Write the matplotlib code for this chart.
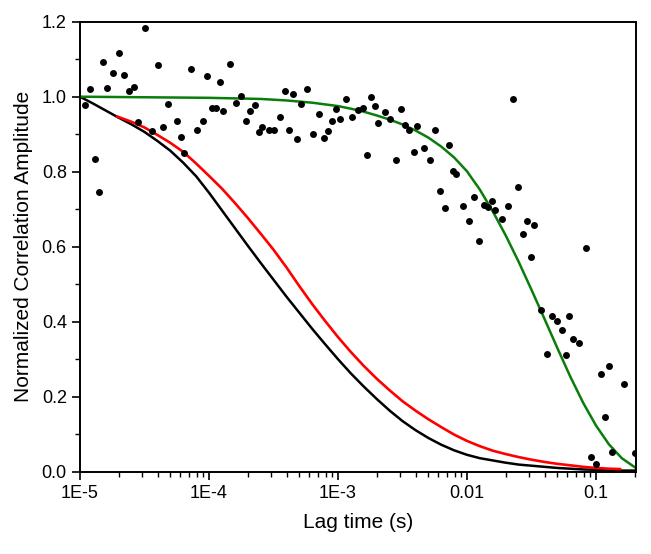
import matplotlib
matplotlib.use("Agg")
import matplotlib.pyplot as plt
from matplotlib.ticker import LogLocator, FixedLocator, FixedFormatter, MultipleLocator

plt.rcParams["font.family"] = ["Liberation Sans", "DejaVu Sans"]

# ---- values (x in log10 seconds) ----
pts_logt = [-4.96, -4.92, -4.886, -4.853, -4.824, -4.793, -4.744, -4.698, -4.656, -4.62,
            -4.584, -4.553, -4.494, -4.44, -4.395, -4.354, -4.318, -4.25, -4.22, -4.19,
            -4.14, -4.095, -4.05, -4.016, -3.98, -3.948, -3.917, -3.891, -3.84, -3.793,
            -3.752, -3.713, -3.68, -3.646, -3.615, -3.589, -3.537, -3.494, -3.452, -3.413,
            -3.377, -3.346, -3.315, -3.287, -3.238, -3.191, -3.15, -3.111, -3.075, -3.044,
            -3.016, -2.987, -2.936, -2.889, -2.847, -2.81, -2.773, -2.742, -2.711, -2.69,
            -2.638, -2.594, -2.55, -2.514, -2.478, -2.447, -2.413, -2.388, -2.336, -2.289,
            -2.248, -2.209, -2.173, -2.142, -2.11, -2.085, -2.031, -1.987, -1.943, -1.904,
            -1.868, -1.84, -1.809, -1.78, -1.729, -1.682, -1.643, -1.605, -1.569, -1.535,
            -1.507, -1.477, -1.426, -1.38, -1.339, -1.3, -1.266, -1.234, -1.207, -1.176,
            -1.13, -1.08, -1.037, -1.0, -0.964, -0.933, -0.902, -0.874, -0.78, -0.7]
pts_amp = [0.977, 1.020, 0.833, 0.745, 1.093, 1.024, 1.062, 1.117, 1.057, 1.016,
           1.025, 0.933, 1.183, 0.909, 1.085, 0.918, 0.981, 0.935, 0.893, 0.850,
           1.074, 0.911, 0.935, 1.056, 0.969, 0.969, 1.040, 0.963, 1.086, 0.983,
           1.001, 0.934, 0.963, 0.978, 0.906, 0.920, 0.911, 0.911, 0.945, 1.014,
           0.912, 1.008, 0.888, 0.981, 1.021, 0.900, 0.953, 0.891, 0.909, 0.934,
           0.968, 0.941, 0.995, 0.946, 0.965, 0.971, 0.845, 1.000, 0.974, 0.931,
           0.958, 0.941, 0.832, 0.967, 0.924, 0.912, 0.853, 0.922, 0.864, 0.830,
           0.912, 0.748, 0.704, 0.872, 0.801, 0.794, 0.709, 0.668, 0.733, 0.615,
           0.711, 0.707, 0.722, 0.699, 0.673, 0.708, 0.995, 0.758, 0.633, 0.669,
           0.573, 0.658, 0.431, 0.315, 0.414, 0.402, 0.378, 0.311, 0.414, 0.353,
           0.344, 0.597, 0.039, 0.021, 0.260, 0.147, 0.282, 0.053, 0.235, 0.049]

black_logt = [-5.0, -4.9, -4.8, -4.7, -4.6, -4.5, -4.4, -4.3, -4.2, -4.1,
              -4.0, -3.9, -3.8, -3.7, -3.6, -3.5, -3.4, -3.3, -3.2, -3.1,
              -3.0, -2.9, -2.8, -2.7, -2.6, -2.5, -2.4, -2.3, -2.2, -2.1,
              -2.0, -1.9, -1.8, -1.7, -1.6, -1.5, -1.4, -1.3, -1.2, -1.1,
              -1.0, -0.9, -0.8, -0.7]
black_amp = [1.000, 0.982, 0.963, 0.944, 0.926, 0.906, 0.882, 0.856, 0.824, 0.788,
             0.744, 0.697, 0.650, 0.603, 0.557, 0.512, 0.467, 0.424, 0.381, 0.340,
             0.300, 0.262, 0.227, 0.194, 0.163, 0.135, 0.111, 0.090, 0.072, 0.057,
             0.045, 0.036, 0.030, 0.024, 0.019, 0.016, 0.013, 0.010, 0.008, 0.006,
             0.005, 0.004, 0.003, 0.003]

red_logt = [-4.711, -4.6, -4.5, -4.4, -4.3, -4.2, -4.1, -4.0, -3.9, -3.8,
            -3.7, -3.6, -3.5, -3.4, -3.3, -3.2, -3.1, -3.0, -2.9, -2.8,
            -2.7, -2.6, -2.5, -2.4, -2.3, -2.2, -2.1, -2.0, -1.9, -1.8,
            -1.7, -1.6, -1.5, -1.4, -1.3, -1.2, -1.1, -1.0, -0.9, -0.814]
red_amp = [0.947, 0.933, 0.918, 0.898, 0.877, 0.853, 0.822, 0.789, 0.755, 0.717,
           0.677, 0.635, 0.592, 0.545, 0.495, 0.447, 0.402, 0.359, 0.319, 0.282,
           0.248, 0.217, 0.188, 0.163, 0.140, 0.119, 0.099, 0.082, 0.068, 0.056,
           0.047, 0.039, 0.032, 0.026, 0.021, 0.017, 0.013, 0.010, 0.008, 0.007]

green_logt = [-5.0, -4.0, -3.6, -3.4, -3.2, -3.0, -2.9, -2.8, -2.7, -2.6,
              -2.5, -2.4, -2.3, -2.2, -2.1, -2.0, -1.9, -1.8, -1.7, -1.6,
              -1.5, -1.4, -1.3, -1.2, -1.1, -1.0, -0.9, -0.8, -0.7]
green_amp = [1.000, 0.997, 0.994, 0.990, 0.984, 0.975, 0.968, 0.960, 0.950, 0.939,
             0.926, 0.910, 0.891, 0.867, 0.838, 0.801, 0.752, 0.694, 0.630, 0.560,
             0.485, 0.408, 0.330, 0.254, 0.184, 0.123, 0.073, 0.036, 0.012]

xtick_vals = [1e-5, 1e-4, 1e-3, 1e-2, 1e-1]
xtick_labels = ["1E-5", "1E-4", "1E-3", "0.01", "0.1"]


def tolin(v):
    return [10 ** a for a in v]


fig = plt.figure(figsize=(6.51, 5.54), dpi=100)
ax = fig.add_axes([80 / 651, 1 - 471.7 / 554, (636 - 80) / 651, (471.7 - 21.7) / 554])

ax.plot(tolin(black_logt), black_amp, color="black", lw=1.8)
ax.plot(tolin(red_logt), red_amp, color="#ff0000", lw=1.9)
ax.plot(tolin(green_logt), green_amp, color="#0a7d0a", lw=1.8)
ax.plot(tolin(pts_logt), pts_amp, "o", color="black", ms=5, mew=0)

ax.set_xscale("log")
ax.set_xlim(1e-5, 10 ** -0.69)
ax.set_ylim(0, 1.2)

ax.xaxis.set_major_locator(FixedLocator(xtick_vals))
ax.xaxis.set_major_formatter(FixedFormatter(xtick_labels))
ax.xaxis.set_minor_locator(LogLocator(base=10, subs=range(2, 10), numticks=20))
ax.yaxis.set_major_locator(MultipleLocator(0.2))
ax.yaxis.set_minor_locator(MultipleLocator(0.1))
ax.yaxis.set_major_formatter(plt.FuncFormatter(lambda v, p: f"{v:.1f}"))

ax.tick_params(which="major", direction="out", length=6, width=1.2, labelsize=13,
               top=False, right=False)
ax.tick_params(which="minor", direction="out", length=3.5, width=1.0,
               top=False, right=False)
for s in ax.spines.values():
    s.set_linewidth(1.4)

ax.set_xlabel("Lag time (s)", fontsize=15, labelpad=8)
ax.set_ylabel("Normalized Correlation Amplitude", fontsize=15, labelpad=6)

fig.savefig("out.png", dpi=100)
